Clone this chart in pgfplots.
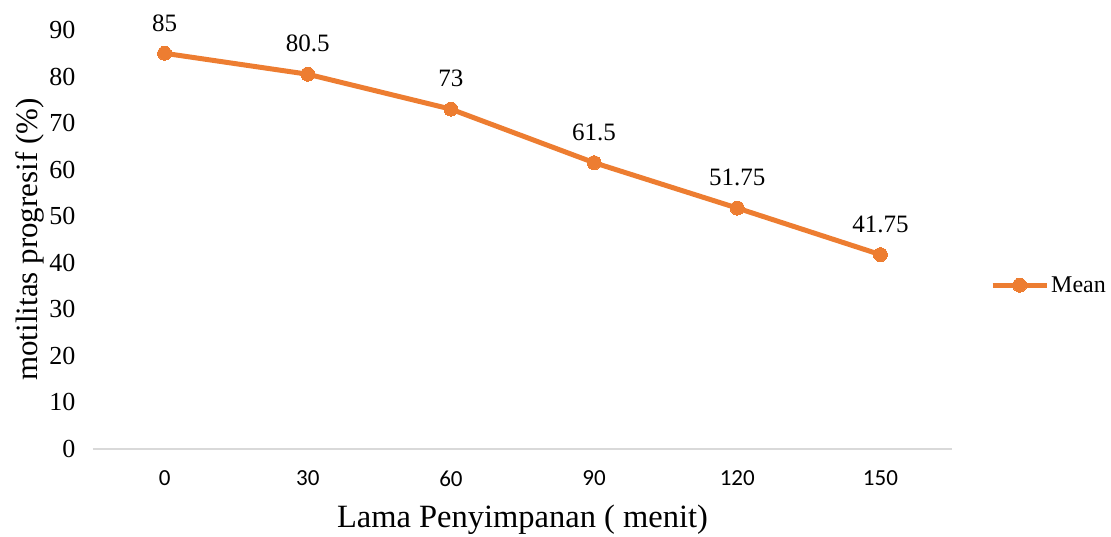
\documentclass[border=0pt]{standalone}
\usepackage{pgfplots}
\pgfplotsset{compat=1.18}
\usepackage{fontspec}
\setmainfont{Liberation Serif}
\newfontfamily\calibri{Carlito}
\definecolor{meanorange}{HTML}{ED7D31}
\definecolor{axisgray}{HTML}{D9D9D9}

\begin{document}
\begin{tikzpicture}[x=1pt,y=1pt]
\path[use as bounding box] (-93,-87) rectangle (1018,449);
\begin{axis}[
  at={(0,0)}, anchor=south west,
  scale only axis, width=859pt, height=419pt,
  xmin=-0.5, xmax=5.5, ymin=0, ymax=90,
  axis x line*=bottom, axis y line*=left,
  x axis line style={draw=axisgray, line width=1.5pt},
  y axis line style={draw=none},
  xtick={0,...,5}, xticklabels={0,30,60,90,120,150},
  ytick={0,10,...,90},
  major tick length=0pt,
  /pgf/number format/assume math mode=true,
  x tick label style={font=\calibri\fontsize{23}{26}\selectfont, anchor=north, yshift=-18pt},
  y tick label style={font=\fontsize{26}{30}\selectfont, anchor=east, xshift=-14pt},
  xlabel={Lama Penyimpanan ( menit)},
  ylabel={motilitas progresif (\%)},
  every axis x label/.style={at={(axis description cs:0.5,0)}, anchor=center, yshift=-71pt,
    font=\fontsize{32.5}{38}\selectfont},
  every axis y label/.style={at={(axis description cs:0,0.5)}, anchor=center, xshift=-63pt,
    rotate=90, font=\fontsize{31}{36}\selectfont},
  clip=false,
  legend style={at={(rel axis cs:1.0442,0.391)}, anchor=west, draw=none, fill=none, inner sep=0pt,
    font=\fontsize{24}{28}\selectfont},
  legend image code/.code={%
    \draw[#1, mark repeat=2, mark phase=2] plot coordinates {(0pt,0pt) (27pt,0pt) (54pt,0pt)};},
]
\addplot[color=meanorange, line width=5pt, mark=*, mark size=7pt,
  mark options={line width=0pt, fill=meanorange},
  nodes near coords, point meta=explicit symbolic,
  every node near coord/.append style={anchor=south, yshift=22pt, inner sep=0pt,
    text=black, font=\fontsize{25}{29}\selectfont}]
  coordinates {
    (0,85) [85]
    (1,80.5) [80.5]
    (2,73) [73]
    (3,61.5) [61.5]
    (4,51.75) [51.75]
    (5,41.75) [41.75]
  };
\addlegendentry{Mean}
\end{axis}
\end{tikzpicture}
\end{document}
